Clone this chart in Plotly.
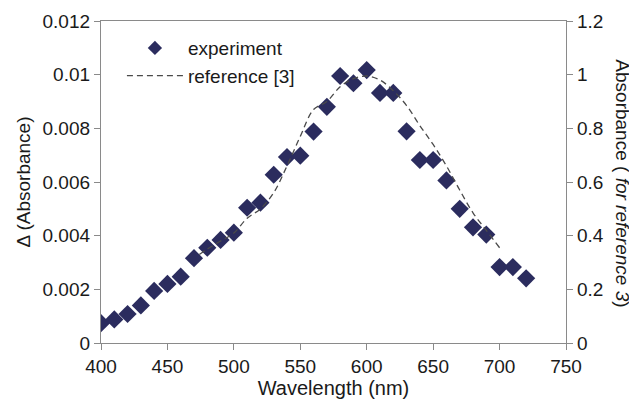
import plotly.graph_objects as go

NAVY = "#2B2C5E"
GREY = "#8A8A8A"
FONT = "Liberation Sans, Arial, sans-serif"

wavelength = [400, 410, 420, 430, 440, 450, 460, 470, 480, 490, 500, 510, 520, 530, 540, 550,
              560, 570, 580, 590, 600, 610, 620, 630, 640, 650, 660, 670, 680, 690, 700, 710, 720]
experiment = [0.00074, 0.00088, 0.00108, 0.0014, 0.00194, 0.0022, 0.00247, 0.00316, 0.00355,
              0.00384, 0.00411, 0.00504, 0.00523, 0.00627, 0.00693, 0.00698, 0.00788, 0.0088,
              0.00995, 0.00968, 0.01017, 0.00932, 0.00932, 0.00789, 0.00682, 0.00682, 0.00606,
              0.005, 0.00431, 0.00404, 0.00283, 0.00283, 0.00241]

ref_wavelength = [474, 480, 490, 500, 510, 520, 530, 540, 550, 560, 570, 580, 590, 600,
                  610, 620, 630, 640, 650, 660, 670, 680, 690, 700]
ref_absorbance = [0.33, 0.35, 0.38, 0.41, 0.465, 0.50, 0.56, 0.66, 0.77, 0.87, 0.90, 0.955,
                  0.985, 0.995, 0.98, 0.94, 0.885, 0.81, 0.74, 0.66, 0.57, 0.485, 0.42, 0.355]

x_ticks = [400, 450, 500, 550, 600, 650, 700, 750]
y_ticks = [0, 0.002, 0.004, 0.006, 0.008, 0.01, 0.012]
y_labels = ["0", "0.002", "0.004", "0.006", "0.008", "0.01", "0.012"]
y2_ticks = [0, 0.2, 0.4, 0.6, 0.8, 1, 1.2]
y2_labels = ["0", "0.2", "0.4", "0.6", "0.8", "1", "1.2"]

fig = go.Figure()
fig.add_trace(go.Scatter(
    x=wavelength, y=experiment, mode="markers", name="experiment", showlegend=False,
    marker=dict(symbol="diamond", size=14, color=NAVY, line=dict(width=0)),
))
# legend-only entry, the legend diamond is smaller than the plotted ones
fig.add_trace(go.Scatter(
    x=[None], y=[None], mode="markers", name="experiment",
    marker=dict(symbol="diamond", size=11, color=NAVY, line=dict(width=0)),
))
fig.add_trace(go.Scatter(
    x=ref_wavelength, y=ref_absorbance, mode="lines", name="reference [3]", yaxis="y2",
    line=dict(color="#4A4A4A", width=1.3, dash="6px,4px", shape="spline"),
))

axis_common = dict(
    showgrid=False, zeroline=False, showline=True, linecolor=GREY, linewidth=1.3,
    ticks="outside", ticklen=6, tickcolor=GREY, tickwidth=1.3, automargin=False,
    tickfont=dict(size=19, color="#1a1a1a", family=FONT),
)

# page body adds an 8px offset, so the figure is 8px smaller than the window
fig.update_layout(
    width=629, height=392,
    margin=dict(l=93, r=71, t=13, b=57),
    paper_bgcolor="white", plot_bgcolor="white",
    font=dict(family=FONT, size=19, color="#1a1a1a"),
    showlegend=True,
    legend=dict(x=0.045, y=0.975, xanchor="left", yanchor="top", bgcolor="rgba(0,0,0,0)",
                font=dict(size=19), itemwidth=56, tracegroupgap=0),
    xaxis=dict(range=[400, 750], tickvals=x_ticks, mirror=True,
               title=dict(text="Wavelength (nm)", font=dict(size=20), standoff=2),
               **axis_common),
    yaxis=dict(range=[0, 0.012], tickvals=y_ticks, ticktext=y_labels,
               title=dict(text="Δ (Absorbance)", font=dict(size=19), standoff=6),
               **axis_common),
    yaxis2=dict(range=[0, 1.2], tickvals=y2_ticks, ticktext=y2_labels,
                overlaying="y", side="right", **axis_common),
)

fig.add_annotation(
    text="Absorbance ( <i>for reference 3</i>)", textangle=90,
    xref="paper", yref="paper", x=1.121, y=0.495, xanchor="center", yanchor="middle",
    showarrow=False, font=dict(size=19, family=FONT, color="#1a1a1a"),
)

fig.write_html("out.html")
